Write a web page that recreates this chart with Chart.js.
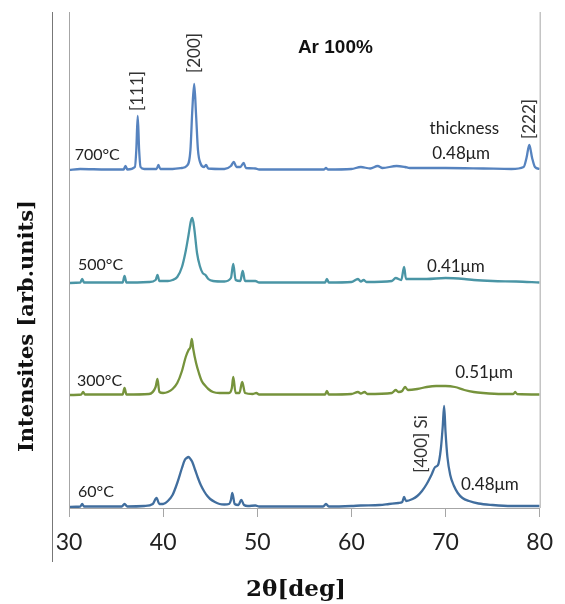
<!DOCTYPE html>
<html>
<head>
<meta charset="utf-8">
<script src="https://cdn.jsdelivr.net/npm/chart.js@4.4.1/dist/chart.umd.min.js"></script>
<style>
  html, body { margin: 0; padding: 0; background: #fff; }
  #wrap { width: 565px; height: 604px; }
</style>
</head>
<body>
<div id="wrap"><canvas id="xrdChart" width="565" height="604"></canvas></div>
<script>
// series names and vertical offsets used to stack the patterns
const temps = ['60°C', '300°C', '500°C', '700°C'];
const offsets = [1, 113, 225, 338];
const colors = ['#416e9e', '#76933c', '#4a95a5', '#5683bf'];
const thickness = ['0.48μm', '0.51μm', '0.41μm', '0.48μm'];
const xTicks = [30, 40, 50, 60, 70, 80];

// 2θ positions and intensities (arb.)
const angles60 = [30, 31.2, 31.4, 31.6, 33, 35.6, 35.9, 36.2, 38, 38.9, 39.3, 39.6, 40, 40.5, 41, 41.5, 42, 42.3, 42.5, 42.7, 42.9, 43.1, 43.4, 43.7, 44, 44.4, 44.7, 45, 45.5, 46, 46.5, 47, 47.2, 47.35, 47.6, 48, 48.3, 48.6, 49, 49.8, 50.2, 53, 57, 57.3, 57.6, 60, 61, 63, 64, 65, 65.4, 65.6, 65.8, 66.5, 67, 67.5, 68, 68.5, 68.9, 69.2, 69.5, 69.7, 69.85, 70.0, 70.2, 70.5, 70.9, 71.3, 71.8, 72.5, 73.5, 75, 77, 80];
const counts60 = [0, 0.5, 3, 0.5, 0.5, 0.5, 3, 0.5, 1, 3, 9, 3, 3, 6, 12, 24, 39, 47, 49, 50, 48, 45, 37, 29, 22, 15, 11, 8, 5, 3, 2.5, 3, 7, 14, 3, 2, 7, 2, 1, 1.5, 0.5, 0.5, 0.5, 3, 0.5, 1, 1.5, 2, 3, 4, 5, 10, 6, 8, 11, 16, 23, 32, 40, 42, 58, 80, 101, 75, 50, 32, 21, 14, 9, 6, 3.5, 2, 1, 1];

const angles300 = [30, 31.3, 31.5, 31.7, 34, 35.7, 35.9, 36.1, 38.5, 39.2, 39.4, 39.6, 40, 40.5, 41, 41.5, 42, 42.4, 42.7, 42.9, 43.05, 43.2, 43.5, 43.8, 44.1, 44.5, 44.8, 45.3, 46, 47, 47.3, 47.45, 47.7, 48.1, 48.4, 48.7, 49.5, 49.9, 50.2, 57.2, 57.4, 57.6, 60, 60.7, 61, 61.4, 61.7, 64.3, 64.7, 65, 65.4, 65.7, 66, 67, 68, 69, 70, 71, 72, 73, 74, 76, 77.2, 77.4, 77.6, 80];
const counts300 = [0, 0.5, 3, 0.5, 0.5, 0.5, 7, 0.5, 1, 8, 16, 3, 2, 3, 6, 12, 24, 38, 45, 48, 56, 46, 32, 22, 14, 9, 6, 3, 2, 2, 7, 18, 2, 2, 13, 2, 1, 2, 0.5, 0.5, 4, 0.5, 1, 3, 1.5, 3, 1, 2, 5, 3, 4, 8, 5, 6, 8, 9, 9, 8, 5, 3, 2, 1, 1, 3, 1, 0.5];

const angles500 = [30, 31.2, 31.4, 31.6, 34, 35.7, 35.9, 36.1, 38.5, 39.2, 39.4, 39.6, 40.5, 41, 41.5, 42, 42.4, 42.7, 42.95, 43.1, 43.3, 43.6, 43.9, 44.2, 44.5, 44.8, 45.3, 46.5, 47.2, 47.45, 47.7, 48.2, 48.45, 48.7, 49.8, 50.2, 57.2, 57.4, 57.6, 60, 60.7, 61, 61.3, 61.6, 64.3, 64.7, 65.3, 65.6, 65.8, 66.5, 68, 70, 72, 73, 75, 77.5, 80];
const counts500 = [0, 0.5, 4, 0.5, 0.5, 0.5, 7, 0.5, 1, 3, 8, 2, 2, 3, 6, 16, 32, 48, 62, 65, 55, 30, 17, 10, 8, 4, 2, 1.5, 5, 19, 3, 2, 12, 2, 2, 0.5, 0.5, 4, 0.5, 1, 4, 1.5, 3, 1, 2, 5, 3, 16, 4, 4, 4, 5, 4, 3, 2, 1.5, 0.5];

const angles700 = [30, 31.2, 34, 35.8, 36.0, 36.2, 37.0, 37.15, 37.3, 37.45, 37.6, 38, 39.3, 39.5, 39.7, 41, 42, 42.5, 42.9, 43.1, 43.3, 43.5, 43.7, 44, 44.35, 44.55, 44.8, 46.5, 47.2, 47.5, 47.8, 48.2, 48.55, 48.8, 49.8, 50.2, 57.1, 57.3, 57.5, 60, 61, 62, 62.8, 63.3, 64.8, 65.7, 66.2, 68, 70, 74, 77, 78.3, 78.6, 78.9, 79.2, 79.5, 80];
const counts700 = [0, 1, 0.5, 0.5, 4, 0.5, 3, 20, 54, 20, 3, 1, 1, 5, 1, 1, 2, 4, 20, 60, 86, 55, 20, 6, 3, 5, 1.5, 1, 4, 8, 3, 3, 7, 2, 1.5, 0.5, 0.5, 2, 0.5, 1, 3, 1.5, 4, 2, 4, 3, 2, 2, 2, 1.5, 1, 3, 12, 25, 12, 3, 1];

const angleSets = [angles60, angles300, angles500, angles700];
const countSets = [counts60, counts300, counts500, counts700];

// text placed in data coordinates (2θ, stacked intensity)
const labels = [
  { text: 'Ar 100%', x: 58.3, y: 460, font: 'bold 19px "Liberation Sans"', align: 'center', color: '#111' },
  { text: '[111]', x: 37.3, y: 417, rot: true, font: '17px Lato', align: 'center', color: '#333' },
  { text: '[200]', x: 43.3, y: 455, rot: true, font: '17px Lato', align: 'center', color: '#333' },
  { text: '[222]', x: 78.95, y: 389, rot: true, font: '17px Lato', align: 'center', color: '#333' },
  { text: '[400] Si', x: 67.4, y: 64, rot: true, font: '17px Lato', align: 'center', color: '#333' },
  { text: 'thickness', x: 72.0, y: 379, font: '17px Lato', align: 'center', color: '#222' },
  { text: temps[3], x: 30.6, y: 353, font: '16px Lato', align: 'left', color: '#222' },
  { text: temps[2], x: 30.95, y: 243, font: '16px Lato', align: 'left', color: '#222' },
  { text: temps[1], x: 30.85, y: 127, font: '16px Lato', align: 'left', color: '#222' },
  { text: temps[0], x: 30.95, y: 16, font: '16px Lato', align: 'left', color: '#222' },
  { text: thickness[3], x: 71.65, y: 354, font: '17px Lato', align: 'center', color: '#222' },
  { text: thickness[2], x: 71.1, y: 241, font: '17px Lato', align: 'center', color: '#222' },
  { text: thickness[1], x: 74.1, y: 135, font: '17px Lato', align: 'center', color: '#222' },
  { text: thickness[0], x: 74.7, y: 23, font: '17px Lato', align: 'center', color: '#222' }
];

const datasets = temps.map((t, i) => ({
  label: t,
  data: angleSets[i].map((a, j) => ({ x: a, y: countSets[i][j] + offsets[i] })),
  borderColor: colors[i],
  borderWidth: 2.3,
  pointRadius: 0,
  cubicInterpolationMode: 'monotone',
  fill: false
}));

const textPlugin = {
  id: 'xrdText',
  afterDatasetsDraw(chart) {
    const ctx = chart.ctx;
    const xs = chart.scales.x, ys = chart.scales.y;
    const area = chart.chartArea;
    ctx.save();
    // frame lines
    ctx.strokeStyle = '#a6a6a6';
    ctx.lineWidth = 1;
    ctx.beginPath();
    ctx.moveTo(area.left + 0.5, area.top);
    ctx.lineTo(area.left + 0.5, area.bottom);
    ctx.moveTo(area.right + 0.5, area.top);
    ctx.lineTo(area.right + 0.5, area.bottom);
    ctx.stroke();
    ctx.strokeStyle = '#777';
    ctx.beginPath();
    ctx.moveTo(52.5, area.top);
    ctx.lineTo(52.5, 562);
    ctx.stroke();

    for (const l of labels) {
      const px = xs.getPixelForValue(l.x);
      const py = ys.getPixelForValue(l.y);
      ctx.save();
      ctx.translate(px, py);
      if (l.rot) ctx.rotate(-Math.PI / 2);
      ctx.font = l.font;
      ctx.fillStyle = l.color;
      ctx.textAlign = l.align;
      ctx.textBaseline = 'middle';
      ctx.fillText(l.text, 0, 0);
      ctx.restore();
    }

    // axis titles
    ctx.fillStyle = '#111';
    ctx.font = 'bold 21px "DejaVu Serif"';
    ctx.textAlign = 'center';
    ctx.textBaseline = 'middle';
    ctx.save();
    ctx.translate(28, 326);
    ctx.rotate(-Math.PI / 2);
    ctx.fillText('Intensites [arb.units]', 0, 0);
    ctx.restore();
    ctx.font = 'bold 23px "DejaVu Serif"';
    ctx.textBaseline = 'alphabetic';
    ctx.fillText('2θ[deg]', 296, 596);
    ctx.restore();
  }
};

new Chart(document.getElementById('xrdChart'), {
  type: 'line',
  data: { datasets: datasets },
  options: {
    responsive: false,
    animation: false,
    devicePixelRatio: 1,
    layout: { padding: { left: 69, right: 22, top: 12, bottom: 0 } },
    plugins: { legend: { display: false }, tooltip: { enabled: false } },
    scales: {
      x: {
        type: 'linear',
        min: xTicks[0],
        max: xTicks[xTicks.length - 1],
        afterFit: (s) => { s.height = 96; },
        afterBuildTicks: (s) => { s.ticks = xTicks.map(v => ({ value: v })); },
        ticks: { color: '#222', font: { family: 'Lato', size: 23 }, padding: 12, maxRotation: 0 },
        grid: { drawOnChartArea: false, tickLength: 9, color: '#a6a6a6' },
        border: { display: true, color: '#a6a6a6' }
      },
      y: { display: false, min: 0, max: 496 }
    }
  },
  plugins: [textPlugin]
});
</script>
</body>
</html>
